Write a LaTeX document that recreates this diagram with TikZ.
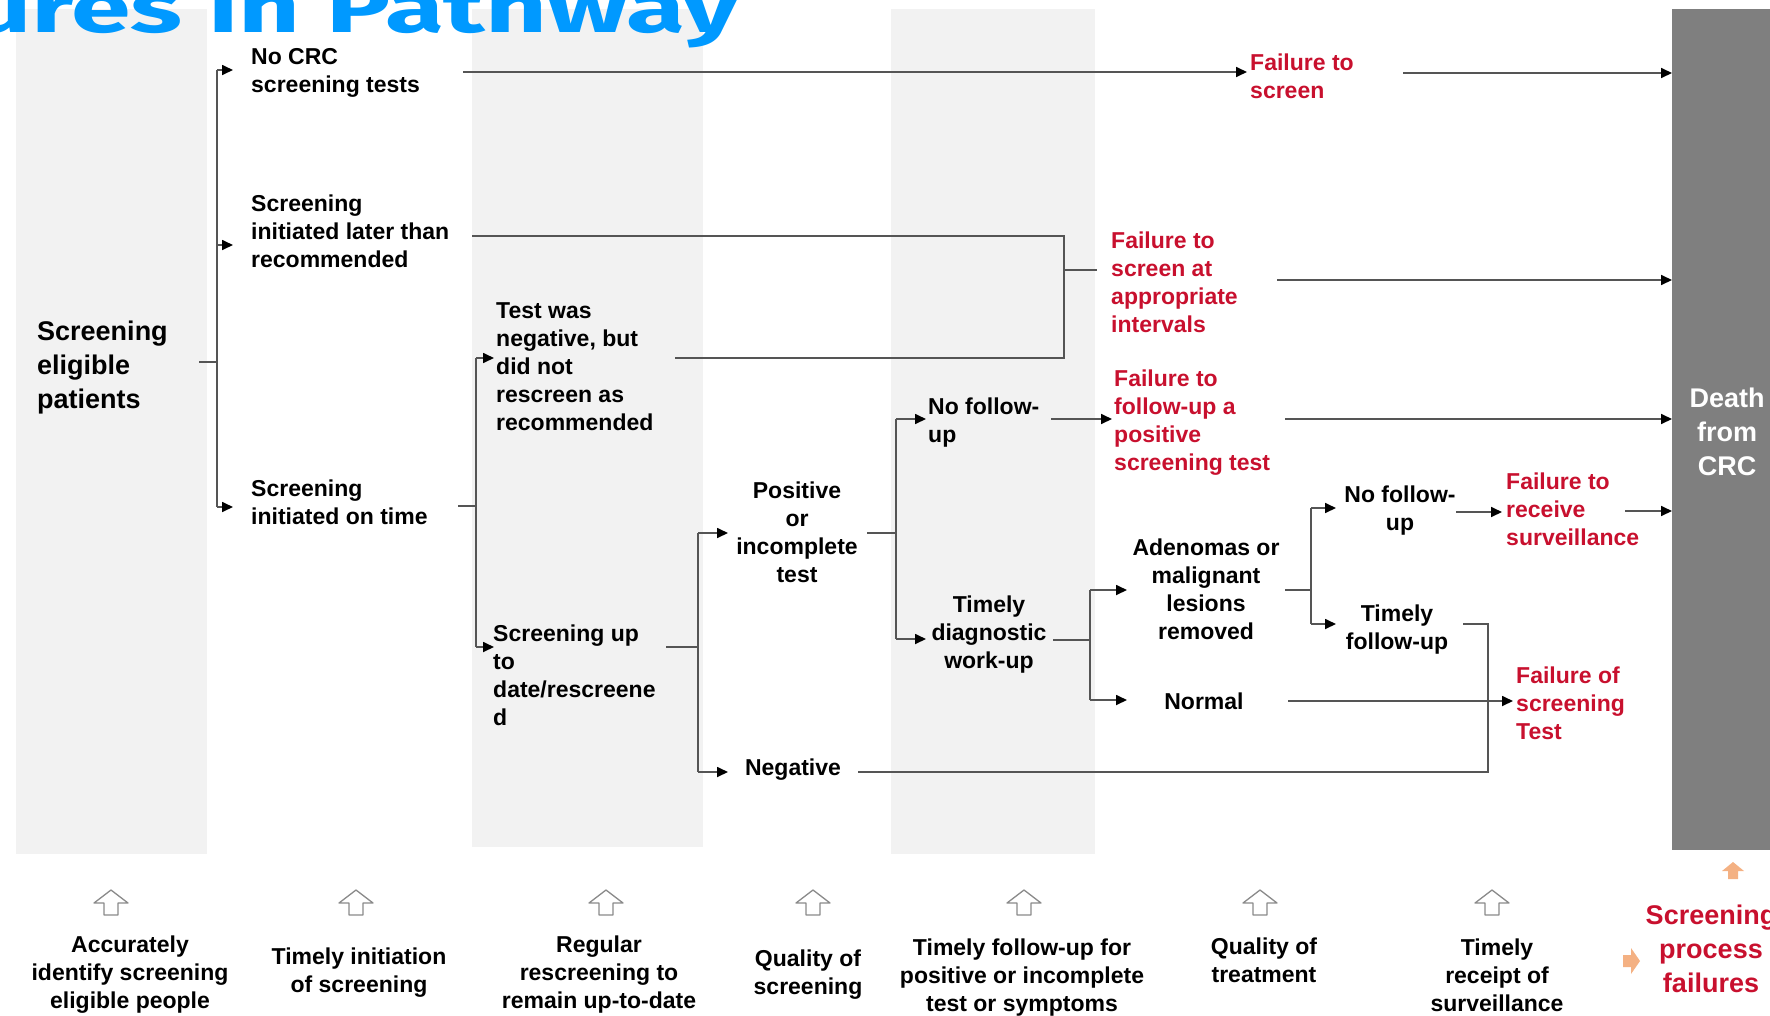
\documentclass[tikz,border=0pt]{standalone}
\usepackage{fontspec}
\setmainfont{Liberation Sans}
\newfontfamily\titlefamily{Fira Sans}
\usetikzlibrary{arrows.meta}

\definecolor{bandgray}{HTML}{F2F2F2}
\definecolor{deathgray}{HTML}{7F7F7F}
\definecolor{wirecol}{HTML}{555555}
\definecolor{failred}{RGB}{200,16,46}
\definecolor{titleblue}{HTML}{0099FF}
\definecolor{hintorange}{HTML}{F4B183}
\definecolor{hollowgray}{HTML}{8A8A8A}

\newcommand\stdtext{\bfseries\fontsize{23}{28}\selectfont}
\newcommand\bigtext{\bfseries\fontsize{27}{34}\selectfont}

\tikzset{
  txt/.style={inner sep=0pt, font=\stdtext, yshift=-4.5pt,
    execute at begin node=\strut, execute at end node=\strut},
  txtl/.style={txt, align=left, anchor=north west},
  txtc/.style={txt, align=center, anchor=north},
  fail/.style={txtl, text=failred},
  wire/.style={draw=wirecol, line width=1.7pt},
  arr/.style={wire, -{Triangle[length=11pt,width=10pt,color=black]}},
  hollowup/.pic={\draw[draw=hollowgray, line width=1.3pt, fill=white, line join=round]
    (-17,0) -- (0,-13) -- (17,0) -- (7,0) -- (7,12) -- (-7,12) -- (-7,0) -- cycle;},
  orangeup/.pic={\fill[hintorange]
    (-11,0) -- (0,-9) -- (11,0) -- (5,0) -- (5,8) -- (-5,8) -- (-5,0) -- cycle;},
  orangeright/.pic={\fill[hintorange]
    (-8,-6) -- (0,-6) -- (0,-13) -- (9,0) -- (0,13) -- (0,6) -- (-8,6) -- cycle;},
}

\begin{document}
\begin{tikzpicture}[x=1pt, y=-1pt]
\useasboundingbox (0,0) rectangle (1770,1015);
\clip (0,0) rectangle (1770,1015);

% shaded stage bands
\fill[bandgray] (16,9) rectangle (207,854);
\fill[bandgray] (472,9) rectangle (703,847);
\fill[bandgray] (891,9) rectangle (1095,854);

% outcome box
\node[fill=deathgray, inner sep=0pt, minimum width=98pt, minimum height=841pt, anchor=north west]
  (deathbox) at (1672,9) {};
\node[txtc, font=\bigtext, text=white] (death) at (1727,383) {Death\\from\\CRC};

% heading
\node[anchor=base west, inner sep=0pt, text=titleblue,
      font=\titlefamily\bfseries\fontsize{70}{80}\selectfont]
  (title) at (-30,32) {\resizebox{769pt}{\height}{ures in Pathway}};

% pathway states
\node[txtl, font=\bigtext] (eligible) at (37,316) {Screening\\eligible\\patients};
\node[txtl] (nocrc)   at (251,44)  {No CRC\\screening tests};
\node[txtl] (late)    at (251,190) {Screening\\initiated later than\\recommended};
\node[txtl] (ontime)  at (251,475) {Screening\\initiated on time};
\node[txtl] (negbut)  at (496,298) {Test was\\negative, but\\did not\\rescreen as\\recommended};
\node[txtl] (uptodate) at (493,620) {Screening up\\to\\date/rescreene\\d};
\node[txtc] (positive) at (797,477) {Positive\\or\\incomplete\\test};
\node[txtc] (negative) at (793,751) {Negative};
\node[txtl] (nofuA)   at (928,393) {No follow-\\up};
\node[txtc] (diag)    at (989,591) {Timely\\diagnostic\\work-up};
\node[txtc] (adenoma) at (1206,534) {Adenomas or\\malignant\\lesions\\removed};
\node[txtc] (normal)  at (1204,685) {Normal};
\node[txtc] (nofuB)   at (1400,481) {No follow-\\up};
\node[txtc] (timelyfu) at (1397,600) {Timely\\follow-up};

% failure points
\node[fail] (failA) at (1250,49)  {Failure to\\screen};
\node[fail] (failB) at (1111,227) {Failure to\\screen at\\appropriate\\intervals};
\node[fail] (failC) at (1114,365) {Failure to\\follow-up a\\positive\\screening test};
\node[fail] (failD) at (1506,468) {Failure to\\receive\\surveillance};
\node[fail] (failE) at (1516,662) {Failure of\\screening\\Test};

% junction and port coordinates
\foreach \n/\px/\py in {
  elOut/199/362, jA/217/362, jAtop/217/70, jAmid/217/245, jAbot/217/507,
  tA1/233/70, tA2/233/245, tA3/233/507,
  crcOut/463/72, failAin/1247/72, failAout/1403/73,
  lateOut/472/236, jL1/1064/236, jL2/1064/358, negbutOut/675/358,
  jL3/1064/270, failBin/1097/270, failBout/1277/280,
  ontimeOut/458/506, jB/476/506, jBtop/476/358, jBbot/476/647,
  tB1/494/358, tB2/494/647,
  upOut/666/647, jC/698/647, jCtop/698/533, jCbot/698/772,
  tC1/728/533, tC2/728/772,
  posOut/867/533, jD/896/533, jDtop/896/419, jDbot/896/639,
  tD1/926/419, tD2/926/639,
  nofuAout/1051/419, failCin/1112/419, failCout/1285/419,
  diagOut/1053/640, jE/1090/640, jEtop/1090/590, jEbot/1090/700,
  tE1/1127/590, tE2/1127/700,
  normalOut/1288/701, failEin/1513/701,
  adenOut/1285/590, jF/1311/590, jFtop/1311/508, jFbot/1311/624,
  tF1/1336/508, tF2/1336/624,
  nofuBout/1456/512, failDin/1502/512, failDout/1625/511,
  negOut/858/772, jG1/1488/772, jG2/1488/624, timelyOut/1463/624}
  \coordinate (\n) at (\px,\py);

% first split
\draw[wire] (elOut) -- (jA);
\draw[wire] (jAtop) -- (jAbot);
\draw[arr] (jAtop) -- (tA1);
\draw[arr] (jAmid) -- (tA2);
\draw[arr] (jAbot) -- (tA3);

% no screening
\draw[arr] (crcOut) -- (failAin);
\draw[arr] (failAout) -- (failAout -| deathbox.west);

% late start and missed rescreen merge
\draw[wire] (lateOut) -- (jL1) -- (jL2) -- (negbutOut);
\draw[wire] (jL3) -- (failBin);
\draw[arr] (failBout) -- (failBout -| deathbox.west);

% on-time start
\draw[wire] (ontimeOut) -- (jB);
\draw[wire] (jBtop) -- (jBbot);
\draw[arr] (jBtop) -- (tB1);
\draw[arr] (jBbot) -- (tB2);

% screening result
\draw[wire] (upOut) -- (jC);
\draw[wire] (jCtop) -- (jCbot);
\draw[arr] (jCtop) -- (tC1);
\draw[arr] (jCbot) -- (tC2);

% follow-up of positive test
\draw[wire] (posOut) -- (jD);
\draw[wire] (jDtop) -- (jDbot);
\draw[arr] (jDtop) -- (tD1);
\draw[arr] (jDbot) -- (tD2);
\draw[arr] (nofuAout) -- (failCin);
\draw[arr] (failCout) -- (failCout -| deathbox.west);

% diagnostic work-up
\draw[wire] (diagOut) -- (jE);
\draw[wire] (jEtop) -- (jEbot);
\draw[arr] (jEtop) -- (tE1);
\draw[arr] (jEbot) -- (tE2);
\draw[arr] (normalOut) -- (failEin);

% surveillance
\draw[wire] (adenOut) -- (jF);
\draw[wire] (jFtop) -- (jFbot);
\draw[arr] (jFtop) -- (tF1);
\draw[arr] (jFbot) -- (tF2);
\draw[arr] (nofuBout) -- (failDin);
\draw[arr] (failDout) -- (failDout -| deathbox.west);

% negative result and timely follow-up loop back
\draw[wire] (negOut) -- (jG1) -- (jG2) -- (timelyOut);

% quality targets along the bottom
\foreach \px in {111,356,606,813,1024,1260,1492}
  \pic at (\px,903) {hollowup};
\node[txtc] (goalA) at (130,931)  {Accurately\\identify screening\\eligible people};
\node[txtc] (goalB) at (359,943)  {Timely initiation\\of screening};
\node[txtc] (goalC) at (599,931)  {Regular\\rescreening to\\remain up-to-date};
\node[txtc] (goalD) at (808,945)  {Quality of\\screening};
\node[txtc] (goalE) at (1022,934) {Timely follow-up for\\positive or incomplete\\test or symptoms};
\node[txtc] (goalF) at (1264,933) {Quality of\\treatment};
\node[txtc] (goalG) at (1497,934) {Timely\\receipt of\\surveillance};

% legend
\pic at (1733,871) {orangeup};
\pic at (1631,961) {orangeright};
\node[txtc, font=\bigtext, text=failred] (legend) at (1711,900) {Screening\\process\\failures};
\end{tikzpicture}
\end{document}
